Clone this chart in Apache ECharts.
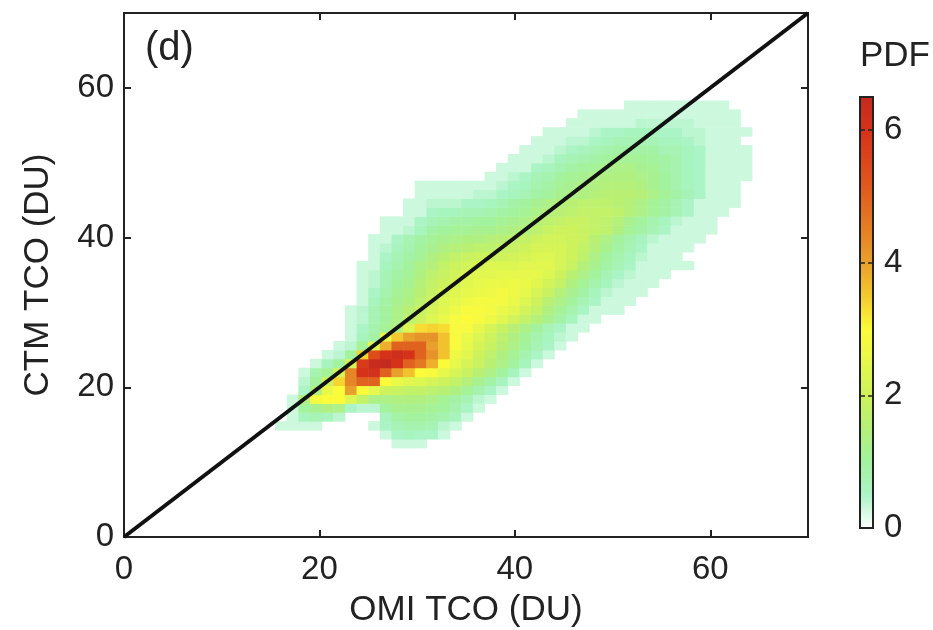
<!DOCTYPE html>
<html>
<head>
<meta charset="utf-8">
<style>html,body{margin:0;padding:0;background:#fff}#c{width:933px;height:630px}</style>
<script src="https://cdn.jsdelivr.net/npm/echarts@6/dist/echarts.min.js"></script>
</head>
<body>
<div id="c"></div>
<script>
const panelLabel = '(d)';
const xName = 'OMI TCO (DU)';
const yName = 'CTM TCO (DU)';
const barName = 'PDF';
const axisTicks = [0, 20, 40, 60];
const barTicks = [0, 2, 4, 6];
const diagonal = [[0, 0], [70, 70]];
const binSize = 1.19;
const firstRow = 10;
// first column of each row, from row 10 upward
const rowStarts = [23,22,13,14,14,14,15,15,15,16,17,18,19,19,19,19,20,20,20,20,20,21,21,21,22,22,24,24,25,25,31,32,33,34,35,36,38,39,43];
// PDF values of each row, from row 10 upward (0 is an empty bin)
const pdfRows = [
[.3,.3,.3],
[.3,.5,.6,.5,.5,.3],
[.3,.3,.3,.3,0,0,0,0,.3,.5,.7,.8,.8,.7,.4,.3],
[.3,.6,.7,.6,.4,0,0,0,.6,.9,1,1,.9,.8,.6,.3],
[.3,1,1.2,1.4,1.3,.5,.4,.4,1,1.2,1.2,1.2,1.1,1,.8,.5,.3],
[.3,1.4,2.8,3,3,2.3,1.8,1.3,1.3,1.4,1.4,1.4,1.3,1.1,.9,.7,.4,.3],
[.5,1.4,2.6,3,4,3,2.5,2,1.9,1.8,1.8,1.7,1.6,1.4,1.1,.8,.5,.3],
[.4,1,2,3.4,4.4,5,5,3,2.6,2.4,2.3,2.2,2,1.8,1.5,1.2,.9,.6,.3],
[.3,.8,1.1,2.2,4.4,6,6.1,5,4,3.6,3,2.9,2.5,2.2,1.9,1.6,1.3,1,.6,.3],
[.3,.6,1,2.2,5.8,6.4,6.5,6,5,4.6,3.8,3,2.5,2.2,1.9,1.6,1.3,1,.6,.3],
[.3,.4,1,3.4,5.4,6,6.2,6,5,4.2,3.6,2.7,2.4,2,1.7,1.4,1.1,.8,.5,.3],
[.3,.4,1.1,2.4,3.8,5,5,5,4,3.6,2.9,2.5,2.2,1.9,1.6,1.3,1,.7,.5,.3],
[.3,.6,.9,2.6,3.5,4,4.2,4.2,3.6,2.9,2.6,2.3,2,1.7,1.4,1.1,.8,.6,.4,.3],
[.3,.5,.8,1.1,1.5,2.3,3.3,3.4,3.3,2.9,2.9,2.5,2.2,1.9,1.6,1.3,1,.7,.5,.3,.3],
[.3,.4,.7,1,1.3,1.7,2,2.3,2.6,2.9,3,2.9,2.7,2.4,2.1,1.8,1.5,1.2,.9,.6,.3,.3],
[.3,.4,.7,1,1.3,1.6,1.9,2.2,2.4,2.7,2.9,2.9,2.8,2.6,2.4,2.1,1.8,1.4,1.1,.8,.5,.3,.3,.3],
[.3,.6,.9,1.2,1.4,1.7,2,2.3,2.5,2.7,2.8,2.8,2.8,2.6,2.3,2,1.6,1.3,1,.7,.5,.3,.3,.3],
[.3,.5,.8,1.1,1.3,1.6,1.9,2.2,2.4,2.5,2.6,2.7,2.8,2.7,2.5,2.2,1.9,1.5,1.2,.9,.6,.4,.3,.3,.3],
[.3,.4,.7,1,1.2,1.5,1.8,2,2.2,2.4,2.5,2.6,2.6,2.7,2.6,2.4,2.1,1.8,1.4,1.1,.8,.6,.4,.3,.3,.3],
[.3,.4,.7,.9,1.1,1.4,1.7,1.9,2.1,2.3,2.4,2.4,2.5,2.5,2.5,2.5,2.3,2,1.6,1.3,1,.7,.5,.4,.3,.3,.3],
[.3,.3,.6,.8,1,1.3,1.5,1.8,2,2.1,2.2,2.3,2.3,2.3,2.4,2.4,2.4,2.2,1.9,1.5,1.2,.9,.7,.5,.3,.3,.3,.3,.3],
[.3,.5,.7,.9,1.1,1.4,1.6,1.8,1.9,2,2,2,2.1,2.2,2.3,2.3,2.2,2,1.7,1.3,1,.8,.6,.4,.3,.3,.3],
[.3,.4,.6,.8,1,1.2,1.4,1.5,1.6,1.7,1.7,1.8,1.9,2,2.2,2.2,2.2,2,1.8,1.5,1.2,.9,.7,.5,.3,.3,.3,.3],
[.3,.3,.5,.7,.9,1.1,1.2,1.3,1.4,1.4,1.5,1.6,1.7,1.8,2,2.1,2.1,2,1.9,1.6,1.3,1,.8,.6,.4,.3,.3,.3,.3],
[.3,.3,.4,.6,.9,1,1.1,1.1,1.2,1.2,1.3,1.4,1.5,1.7,1.9,2,2,1.9,1.8,1.7,1.4,1.1,.9,.7,.5,.3,.3,.3,.3],
[.3,.3,.3,.5,.7,.8,.9,.9,1,1,1.1,1.2,1.3,1.5,1.7,1.8,1.9,1.9,1.8,1.7,1.5,1.2,1,.8,.6,.4,.3,.3,.3],
[.3,.3,.5,.6,.6,.7,.7,.8,.9,1,1.1,1.3,1.5,1.6,1.7,1.8,1.8,1.8,1.7,1.5,1.3,1.1,.9,.7,.5,.3,.3,.3],
[.3,.3,.4,.4,.4,.5,.5,.6,.7,.9,1,1.2,1.3,1.5,1.6,1.7,1.7,1.7,1.6,1.5,1.3,1.1,.9,.7,.5,.3,.3,.3,.3],
[.3,.3,.3,.3,.3,.4,.4,.5,.6,.7,.9,1,1.2,1.3,1.4,1.5,1.6,1.6,1.6,1.5,1.3,1.1,.9,.7,.5,.3,.3,.3],
[.3,.3,.3,.3,.3,.3,.3,.4,.5,.6,.8,.9,1.1,1.2,1.3,1.4,1.5,1.5,1.5,1.4,1.2,1,.8,.6,.5,.3,.3,.3],
[.3,.3,.4,.5,.7,.8,1,1.1,1.2,1.3,1.4,1.4,1.4,1.3,1.2,1,.8,.6,.5,.3,.3,.3,.3],
[.3,.3,.3,.5,.6,.8,.9,1,1.1,1.2,1.3,1.3,1.2,1.1,.9,.8,.6,.5,.3,.3,.3,.3],
[.3,.3,.3,.4,.6,.7,.8,.9,1,1.1,1.1,1.1,1,.9,.8,.6,.5,.3,.3,.3,.3],
[.3,.3,.3,.4,.5,.6,.7,.8,.9,.9,.9,.9,.7,.7,.6,.5,.3,.3,.3,.3],
[.3,.3,.3,.4,.4,.5,.6,.7,.7,.7,.7,.6,.6,.5,.4,.3,.3,.3],
[.3,.3,.3,.3,.4,.5,.5,.6,.6,.6,.5,.5,.4,.4,.3,.3,.3,.3],
[.3,.3,.3,.3,.3,.3,.4,.4,.4,.4,.4,.3,.3,.3,.3],
[.3,.3,.3,.3,.3,.3,.3,.3,.3,.3,.3,.3,.3,.3],
[.3,.3,.3,.3,.3,.3,.3,.3,.3]
];
// colour scale, evenly spaced from 0 to 6.5
const pdfColors = ['#ffffff','#aaf4c6','#a2f29e','#b4f07a','#cdf25c','#e6f84c','#fbfb3a','#f4c92f','#e8a02c','#e48024','#e0621f','#dc481b','#d6321a','#c42b1f'];

const cells = [];
pdfRows.forEach((vals, r) => vals.forEach((v, c) => {
  if (v > 0) cells.push([(rowStarts[r] + c) * binSize, (firstRow + r) * binSize, v]);
}));

const ink = '#222222';
const font = 'Liberation Sans';
const labelStyle = {color: ink, fontFamily: font, fontSize: 33};
const nameStyle = {color: ink, fontFamily: font, fontSize: 35};
function mainAxis(pos, isY, showLabel, name) {
  const a = {
    type: 'value', gridIndex: 0, min: 0, max: 70, position: pos,
    splitLine: {show: false},
    axisLine: {show: false, onZero: false},
    axisTick: {show: true, inside: true, length: 7, customValues: axisTicks, lineStyle: {color: ink, width: 2}},
    axisLabel: {show: showLabel, margin: isY ? 10 : 16, customValues: axisTicks, ...labelStyle},
    z: 5
  };
  if (name) {
    a.name = name; a.nameLocation = 'middle'; a.nameTextStyle = nameStyle;
    a.nameGap = isY ? 68 : 56;
  }
  return a;
}
function barAxis(pos, showLabel) {
  return {
    type: 'value', gridIndex: 1, min: 0, max: 6.5, position: pos,
    splitLine: {show: false}, axisLine: {show: false, onZero: false},
    axisTick: {show: true, inside: true, length: 5, customValues: barTicks.slice(1), lineStyle: {color: ink, width: 1.5}},
    axisLabel: {show: showLabel, margin: 11, customValues: barTicks, ...labelStyle},
    z: 10
  };
}

const chart = echarts.init(document.getElementById('c'), null, {renderer: 'canvas'});
chart.setOption({
  animation: false,
  backgroundColor: '#ffffff',
  grid: [
    {left: 124, top: 13, width: 684, height: 524, show: true, borderColor: ink, borderWidth: 2, backgroundColor: 'transparent', z: 5, outerBoundsMode: 'none'},
    {left: 860, top: 97, width: 13, height: 431, show: true, borderColor: ink, borderWidth: 2, backgroundColor: 'transparent', z: 10, outerBoundsMode: 'none'}
  ],
  xAxis: [
    mainAxis('bottom', false, true, xName),
    mainAxis('top', false, false),
    {type: 'value', gridIndex: 1, show: false, min: 0, max: 1}
  ],
  yAxis: [
    mainAxis('left', true, true, yName),
    mainAxis('right', true, false),
    barAxis('right', true),
    barAxis('left', false)
  ],
  visualMap: {
    type: 'continuous', min: 0, max: 6.5, dimension: 2, seriesIndex: 0,
    left: 860, top: 97, itemWidth: 13, itemHeight: 431, padding: 0,
    calculable: false, realtime: false, hoverLink: false,
    inRange: {color: pdfColors}, z: 4
  },
  graphic: [
    {type: 'text', left: 145, top: 29, style: {text: panelLabel, fill: ink, font: '40px "Liberation Sans"'}},
    {type: 'text', left: 860, top: 39, style: {text: barName, fill: ink, font: '35px "Liberation Sans"'}}
  ],
  series: [
    {
      type: 'custom', xAxisIndex: 0, yAxisIndex: 0, data: cells, clip: true,
      encode: {x: 0, y: 1},
      renderItem(params, api) {
        const x = api.value(0), y = api.value(1);
        const a = api.coord([x, y]), b = api.coord([x + binSize, y + binSize]);
        return {type: 'rect', shape: {x: a[0], y: b[1], width: b[0] - a[0] + 0.5, height: a[1] - b[1] + 0.5},
                style: {fill: api.visual('color')}};
      }
    },
    {
      type: 'line', xAxisIndex: 0, yAxisIndex: 0, data: diagonal, symbol: 'none', silent: true, z: 6,
      lineStyle: {color: '#111111', width: 4}
    }
  ]
});
</script>
</body>
</html>
